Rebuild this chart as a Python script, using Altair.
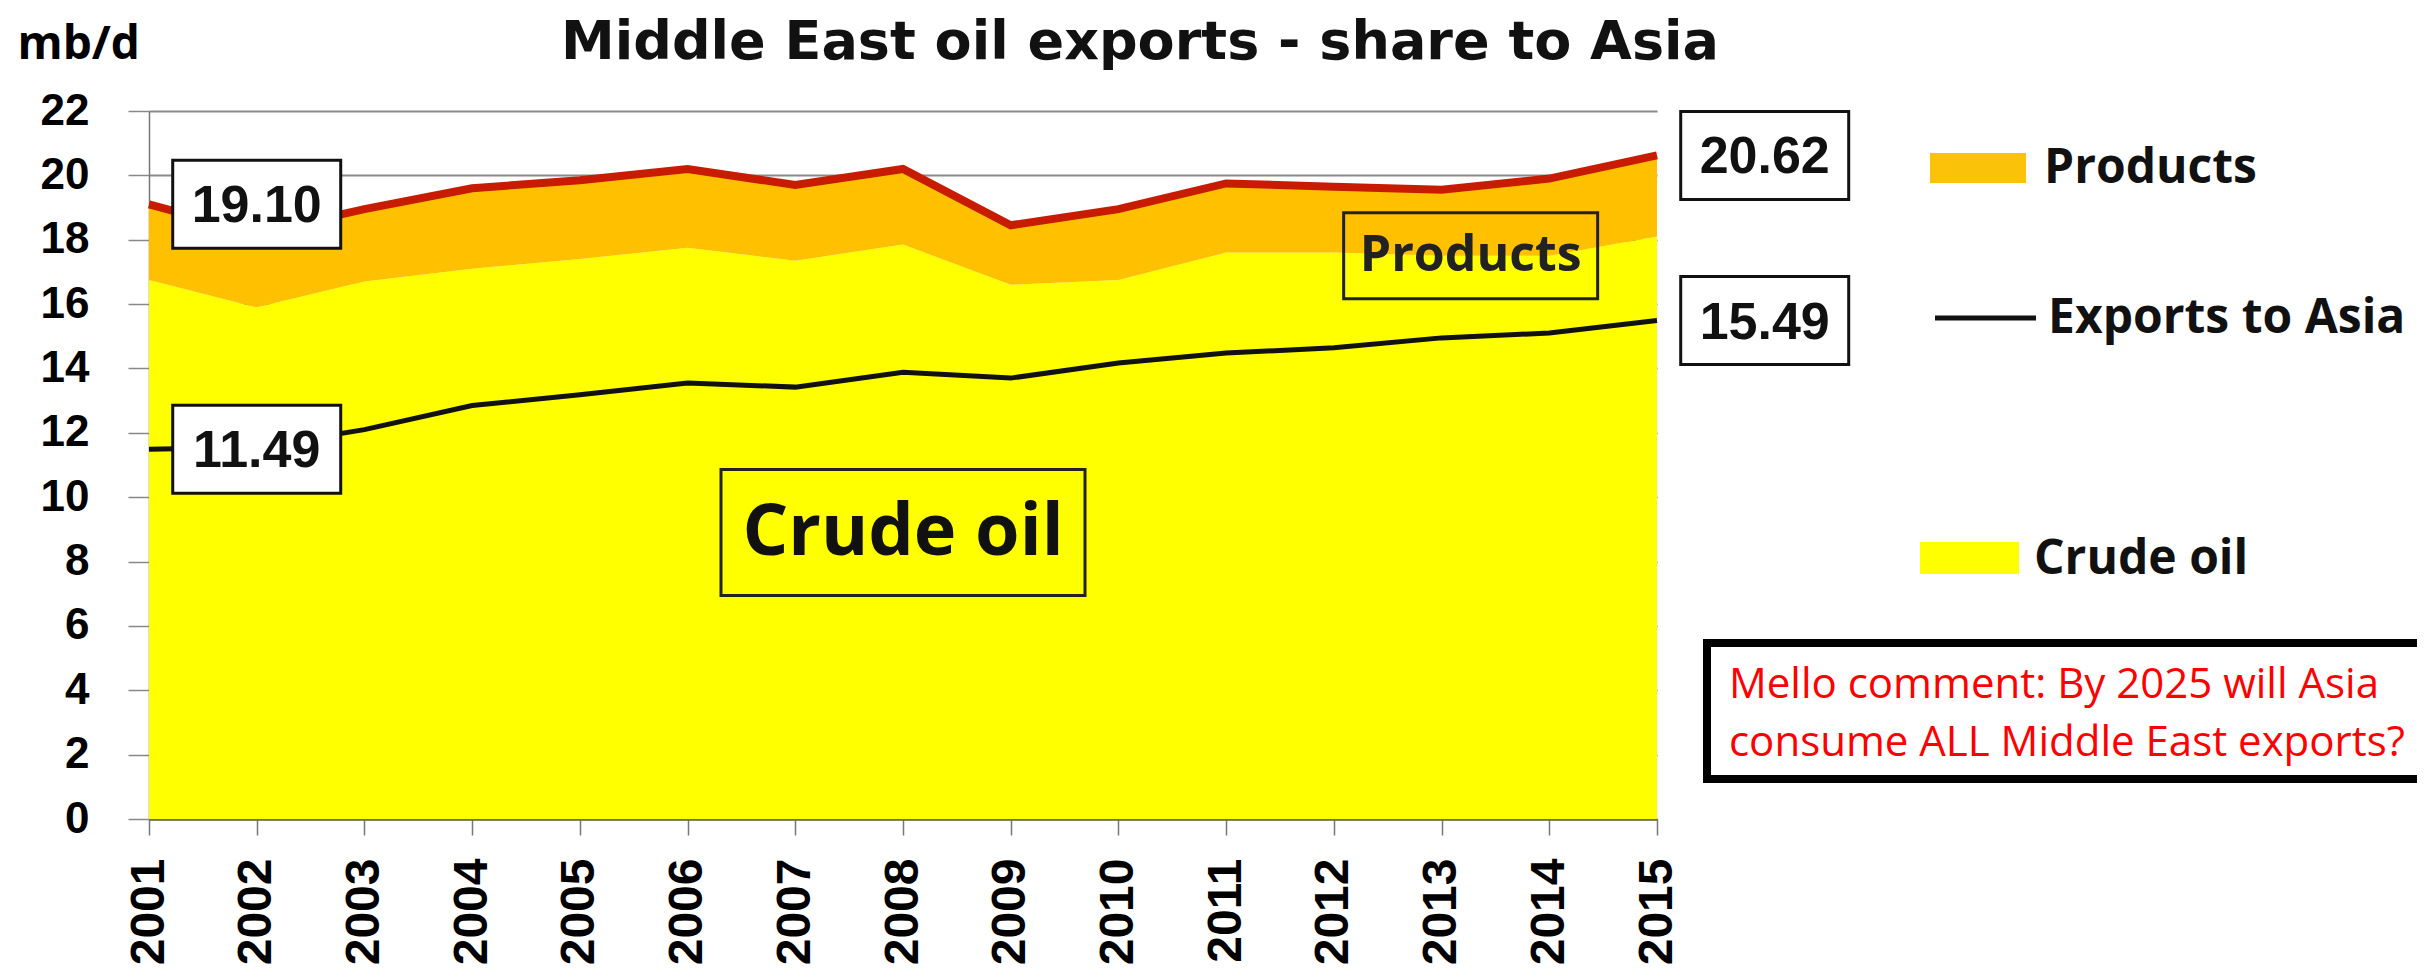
import altair as alt
import pandas as pd

years = list(range(2001, 2016))
total_exports = [19.10, 18.20, 18.95, 19.60, 19.85, 20.20, 19.70, 20.20, 18.45, 18.95, 19.75, 19.65, 19.55, 19.90, 20.62]
crude_oil = [16.75, 15.90, 16.70, 17.10, 17.40, 17.75, 17.35, 17.85, 16.60, 16.75, 17.60, 17.60, 17.50, 17.50, 18.10]
exports_to_asia = [11.49, 11.55, 12.10, 12.85, 13.18, 13.55, 13.42, 13.88, 13.70, 14.17, 14.48, 14.64, 14.95, 15.10, 15.49]
y_ticks = list(range(0, 23, 2))

title_text = "Middle East oil exports - share to Asia"
unit_text = "mb/d"
comment_lines = ["Mello comment: By 2025 will Asia", "consume ALL Middle East exports?"]

df = pd.DataFrame({"year": years, "crude": crude_oil, "total": total_exports, "asia": exports_to_asia})

W, H = 1508, 708
xs = alt.Scale(domain=[2001, 2015], nice=False, zero=False)
ys = alt.Scale(domain=[0, 22], nice=False)

X = alt.X("year:Q", scale=xs, axis=alt.Axis(
    values=years, format="d", labelAngle=270, labelFont="Liberation Sans", labelFontSize=48,
    labelFontWeight="bold", labelColor="#000", labelPadding=23, labelFlush=False, labelOverlap=False,
    tickSize=16, tickColor="#777", tickWidth=1.5, domainColor="#6f6f50", domainWidth=2.5,
    grid=False, title=None))
Y = alt.Y("crude:Q", scale=ys, axis=alt.Axis(
    values=y_ticks, title=unit_text, titleAngle=0, titleX=-132, titleY=-53, titleAlign="left",
    titleBaseline="alphabetic", titleFont="Open Sans", titleFontSize=46, titleFontWeight="bold",
    titleColor="#000", labelFont="Liberation Sans", labelFontSize=44, labelFontWeight="bold",
    labelColor="#000", labelPadding=39, tickSize=21, tickColor="#888", tickWidth=1.5,
    domainColor="#777", domainWidth=1.5, gridColor="#8a8a8a", gridWidth=2))

base = alt.Chart(df)
crude_area = base.mark_area(color="#FFFF00").encode(x=X, y=Y)
prod_area = base.mark_area(color="#FFC000").encode(x=alt.X("year:Q", scale=xs), y=alt.Y("total:Q", scale=ys), y2="crude:Q")
red_line = base.mark_line(color="#C81C00", strokeWidth=8).encode(x=alt.X("year:Q", scale=xs), y=alt.Y("total:Q", scale=ys))
black_line = base.mark_line(color="#111", strokeWidth=5).encode(x=alt.X("year:Q", scale=xs), y=alt.Y("asia:Q", scale=ys))

# value boxes: first values shown at the next year, last values one year beyond the end
lab = pd.DataFrame({
    "year": [years[1], years[1], years[-1] + 1, years[-1] + 1],
    "v": [total_exports[0], exports_to_asia[0], total_exports[-1], exports_to_asia[-1]],
})
lab["txt"] = lab["v"].map(lambda v: f"{v:.2f}")
lab_chart = alt.Chart(lab)
box_shape = "M-1,-0.524L1,-0.524L1,0.524L-1,0.524Z"
val_boxes = lab_chart.mark_point(shape=box_shape, size=168 * 168, filled=True, fill="white",
                                 stroke="#111", strokeWidth=3, opacity=1).encode(
    x=alt.X("year:Q", scale=xs), y=alt.Y("v:Q", scale=ys))
val_text = lab_chart.mark_text(font="Liberation Sans", fontSize=52, fontWeight="bold", color="#111",
                               align="center", baseline="middle", dy=2).encode(
    x=alt.X("year:Q", scale=xs), y=alt.Y("v:Q", scale=ys), text="txt:N")

# in-chart labels
inl = pd.DataFrame({"year": [2008.0, 2013.27], "v": [8.9, 17.5], "txt": ["Crude oil", "Products"]})
crude_box = alt.Chart(inl.iloc[[0]]).mark_point(shape="M-1,-0.346L1,-0.346L1,0.346L-1,0.346Z", size=364 * 364,
                                                 filled=False, stroke="#222", strokeWidth=3, opacity=1).encode(
    x=alt.X("year:Q", scale=xs), y=alt.Y("v:Q", scale=ys))
prod_box = alt.Chart(inl.iloc[[1]]).mark_point(shape="M-1,-0.339L1,-0.339L1,0.339L-1,0.339Z", size=254 * 254,
                                                filled=False, stroke="#222", strokeWidth=3, opacity=1).encode(
    x=alt.X("year:Q", scale=xs), y=alt.Y("v:Q", scale=ys))
crude_txt = alt.Chart(inl.iloc[[0]]).mark_text(font="Open Sans", fontSize=72, fontWeight="bold", color="#111",
                                                baseline="middle").encode(
    x=alt.X("year:Q", scale=xs), y=alt.Y("v:Q", scale=ys), text="txt:N")
prod_txt = alt.Chart(inl.iloc[[1]]).mark_text(font="Open Sans", fontSize=50, fontWeight="bold", color="#222",
                                               baseline="middle").encode(
    x=alt.X("year:Q", scale=xs), y=alt.Y("v:Q", scale=ys), text="txt:N")

one = pd.DataFrame({"k": [0]})
oc = alt.Chart(one)

title = oc.mark_text(text=title_text, font="DejaVu Sans", fontSize=54, fontWeight="bold", color="#111",
                     align="center", baseline="alphabetic").encode(x=alt.value(991), y=alt.value(-52))

# legend
leg_prod_sw = oc.mark_rect(color="#FBC20A").encode(x=alt.value(1781), x2=alt.value(1877), y=alt.value(42), y2=alt.value(72))
leg_asia_ln = oc.mark_rule(color="#111", strokeWidth=5).encode(x=alt.value(1786), x2=alt.value(1887), y=alt.value(207))
leg_crude_sw = oc.mark_rect(color="#FFFF00").encode(x=alt.value(1771), x2=alt.value(1870), y=alt.value(431), y2=alt.value(463))
leg_font = dict(font="Open Sans", fontSize=48, fontWeight="bold", color="#111", align="left", baseline="alphabetic")
leg_t1 = oc.mark_text(text="Products", **leg_font).encode(x=alt.value(1895), y=alt.value(72))
leg_t2 = oc.mark_text(text="Exports to Asia", **leg_font).encode(x=alt.value(1899), y=alt.value(222))
leg_t3 = oc.mark_text(text="Crude oil", **leg_font).encode(x=alt.value(1885), y=alt.value(463))

# comment box
cbox = oc.mark_rect(fill="white", stroke="#000", strokeWidth=8).encode(
    x=alt.value(1558), x2=alt.value(2291), y=alt.value(532), y2=alt.value(668))
ctext = oc.mark_text(text=comment_lines, font="Open Sans", fontSize=42, color="#FF0000", align="left",
                     baseline="alphabetic", lineHeight=58).encode(x=alt.value(1580), y=alt.value(587))

chart = alt.layer(
    crude_area, prod_area, red_line, black_line,
    val_boxes, val_text, crude_box, crude_txt, prod_box, prod_txt,
    title, leg_prod_sw, leg_asia_ln, leg_crude_sw, leg_t1, leg_t2, leg_t3, cbox, ctext,
).properties(
    width=W, height=H,
    autosize=alt.AutoSizeParams(type="none"),
    padding={"left": 141, "top": 103, "right": 760, "bottom": 151},
    background="white",
).configure_view(stroke=None)

chart.save("out.html", embed_options={"renderer": "svg", "actions": False})
